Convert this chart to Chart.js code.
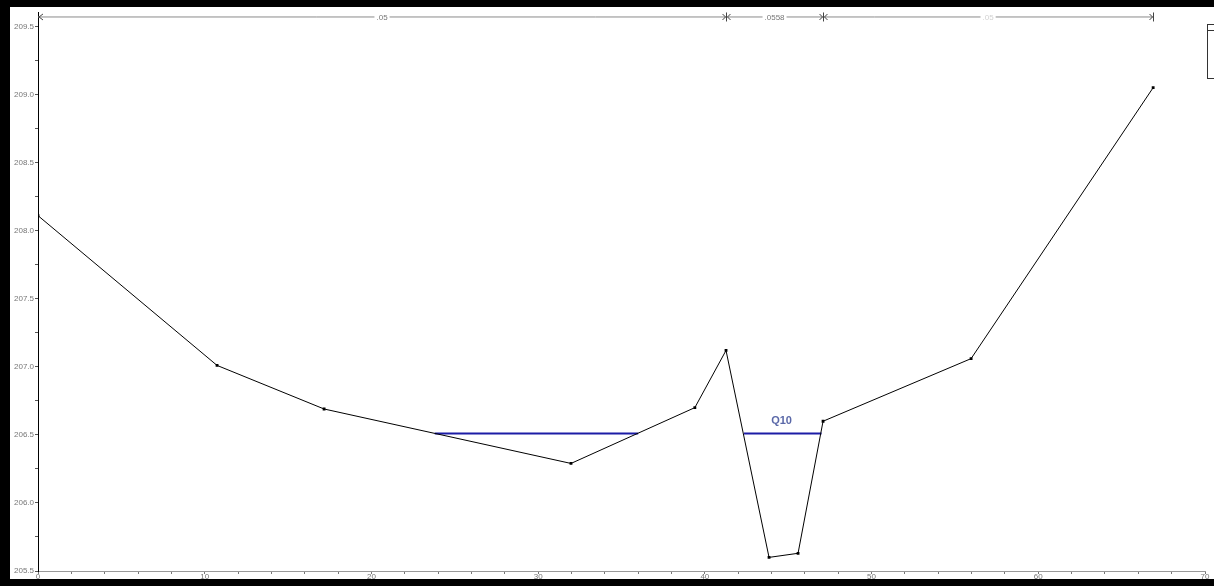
<!DOCTYPE html>
<html>
<head>
<meta charset="utf-8">
<script src="https://cdn.jsdelivr.net/npm/chart.js@4.4.1/dist/chart.umd.min.js"></script>
<style>
  html, body { margin: 0; padding: 0; background: #000; }
  body { width: 1214px; height: 586px; position: relative; overflow: hidden; }
  #wrap { position: absolute; left: 10px; top: 7px; width: 1204px; height: 572px; background: #fff; }
</style>
</head>
<body>
<div id="wrap"><canvas id="xsChart" width="1204" height="572"></canvas></div>
<script>
// ground profile (station, elevation)
const stations   = [0, 10.74, 17.16, 31.97, 39.4, 41.27, 43.85, 45.59, 47.09, 55.97, 66.89];
const elevations = [208.11, 207.01, 206.69, 206.29, 206.70, 207.12, 205.60, 205.63, 206.60, 207.06, 209.05];

// Q10 water surface, two wetted pieces
const wsLeftStations  = [23.8, 36.0];
const wsRightStations = [42.35, 47.0];
const wsElevation = 206.51;

// Manning's n strips along the top
const nBreaks = [0, 41.27, 47.09, 66.89];
const nLabels = ['.05', '.0558', '.05'];
const nElevation = 209.573;

const xMin = 0, xMax = 70;
const yMin = 205.5, yMax = 209.6;

const toPts = (xs, ys) => xs.map((x, i) => ({ x: x, y: Array.isArray(ys) ? ys[i] : ys }));

const tickFont = { size: 8, family: 'Liberation Sans, Arial, sans-serif' };

const overlay = {
    id: 'overlay',
    afterDatasetsDraw(chart) {
        const ctx = chart.ctx;
        const xs = chart.scales.x, ys = chart.scales.y;
        ctx.save();

        // n-value dimension line
        const yy = ys.getPixelForValue(nElevation);
        const px = nBreaks.map(v => xs.getPixelForValue(v));
        ctx.strokeStyle = '#8a8a8a';
        ctx.lineWidth = 1;
        ctx.beginPath();
        ctx.moveTo(px[0], yy + 0.5);
        ctx.lineTo(px[px.length - 1], yy + 0.5);
        ctx.stroke();
        ctx.strokeStyle = '#444';
        // left arrow
        ctx.beginPath();
        ctx.moveTo(px[0] + 5, yy - 2.5); ctx.lineTo(px[0] + 1, yy + 0.5); ctx.lineTo(px[0] + 5, yy + 3.5);
        ctx.stroke();
        // inner break markers
        for (let i = 1; i < px.length - 1; i++) {
            const p = Math.round(px[i]) + 0.5;
            ctx.beginPath();
            ctx.moveTo(p, yy - 4); ctx.lineTo(p, yy + 5);
            ctx.moveTo(p - 4, yy - 2.5); ctx.lineTo(p - 1, yy + 0.5); ctx.lineTo(p - 4, yy + 3.5);
            ctx.moveTo(p + 4, yy - 2.5); ctx.lineTo(p + 1, yy + 0.5); ctx.lineTo(p + 4, yy + 3.5);
            ctx.stroke();
        }
        // right end
        const pe = Math.round(px[px.length - 1]) + 0.5;
        ctx.beginPath();
        ctx.moveTo(pe, yy - 4); ctx.lineTo(pe, yy + 5);
        ctx.moveTo(pe - 4, yy - 2.5); ctx.lineTo(pe - 1, yy + 0.5); ctx.lineTo(pe - 4, yy + 3.5);
        ctx.stroke();

        // n labels
        ctx.font = '8px Liberation Sans, Arial, sans-serif';
        ctx.textAlign = 'center';
        ctx.textBaseline = 'middle';
        nLabels.forEach((t, i) => {
            const cx = (px[i] + px[i + 1]) / 2;
            const w = ctx.measureText(t).width + 4;
            ctx.fillStyle = '#fff';
            ctx.fillRect(cx - w / 2, yy - 4, w, 9);
            ctx.fillStyle = i === 2 ? '#d2d2d2' : '#777';
            ctx.fillText(t, cx, yy + 1);
        });

        // Q10 label
        ctx.font = 'bold 11px Liberation Sans, Arial, sans-serif';
        ctx.fillStyle = '#5a68a8';
        ctx.fillText('Q10', xs.getPixelForValue(44.6), ys.getPixelForValue(206.6));

        // clipped legend box at the right edge
        ctx.strokeStyle = '#333';
        ctx.lineWidth = 1;
        ctx.strokeRect(1197.5, 17.5, 20, 54);
        ctx.beginPath();
        ctx.moveTo(1197, 23.5); ctx.lineTo(1204, 23.5);
        ctx.stroke();
        ctx.restore();
    }
};

new Chart(document.getElementById('xsChart').getContext('2d'), {
    type: 'line',
    data: {
        datasets: [
            {
                label: 'Ground',
                data: toPts(stations, elevations),
                borderColor: '#000',
                borderWidth: 1,
                pointStyle: 'rect',
                pointRadius: 2,
                pointBackgroundColor: '#000',
                pointBorderColor: '#000',
                pointBorderWidth: 0,
                tension: 0
            },
            {
                label: 'WS Q10',
                data: toPts(wsLeftStations, wsElevation),
                borderColor: '#1c1ca6',
                borderWidth: 2,
                pointRadius: 0
            },
            {
                label: 'WS Q10 channel',
                data: toPts(wsRightStations, wsElevation),
                borderColor: '#1c1ca6',
                borderWidth: 2,
                pointRadius: 0
            }
        ]
    },
    options: {
        responsive: false,
        animation: false,
        layout: { padding: { top: 4, right: 9, bottom: 0, left: 0 } },
        plugins: { legend: { display: false }, tooltip: { enabled: false } },
        scales: {
            x: {
                type: 'linear',
                min: xMin,
                max: xMax,
                afterFit: s => { s.height = 8; },
                border: { color: '#9a9a9a', width: 1 },
                grid: { drawOnChartArea: false, tickLength: 3, color: '#777' },
                ticks: {
                    stepSize: 2,
                    autoSkip: false,
                    maxRotation: 0,
                    padding: -2,
                    color: '#777',
                    font: tickFont,
                    callback: v => (Math.abs(v % 10) < 1e-6 ? String(v) : '')
                }
            },
            y: {
                type: 'linear',
                min: yMin,
                max: yMax,
                afterFit: s => { s.width = 28; },
                border: { color: '#000', width: 1 },
                grid: { drawOnChartArea: false, tickLength: 3, color: '#555' },
                ticks: {
                    stepSize: 0.25,
                    autoSkip: false,
                    padding: 1,
                    color: '#777',
                    font: tickFont,
                    callback: v => {
                        const q = Math.round(v * 4);
                        if (Math.abs(v * 4 - q) > 1e-6) return null;
                        return q % 2 === 0 ? v.toFixed(1) : '';
                    }
                }
            }
        }
    },
    plugins: [overlay]
});
</script>
</body>
</html>
